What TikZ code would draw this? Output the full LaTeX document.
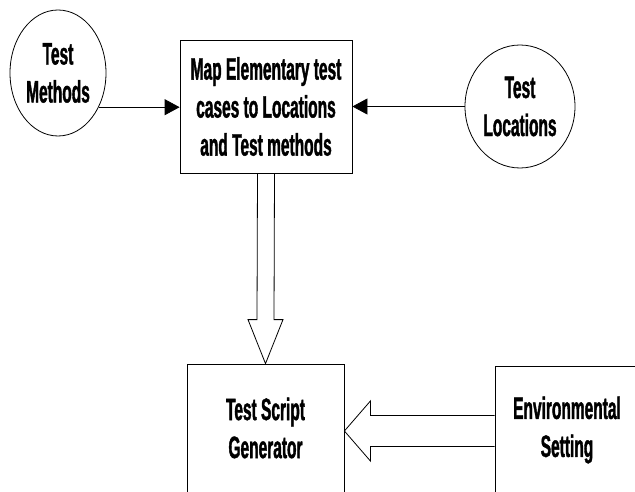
\documentclass[tikz,border=0pt]{standalone}
\usepackage{fontspec}
\newfontfamily\cond[FakeStretch=0.5,FakeBold=1.2]{Liberation Sans}
\usetikzlibrary{arrows.meta,shapes.geometric,calc}
\begin{document}
\begin{tikzpicture}[x=1pt,y=-1pt,
  lbl/.style={font=\cond\bfseries\fontsize{31}{38}\selectfont, align=center, inner sep=0},
  oval/.style={ellipse, draw, line width=0.8pt, inner sep=0},
  box/.style={rectangle, draw, line width=0.8pt, inner sep=0},
  conn/.style={line width=0.8pt, -{Triangle[length=15pt,width=16pt]}},
  block/.style={draw, line width=0.8pt, line join=miter}]
\path[use as bounding box, clip] (0,0) rectangle (635,492);
\fill[white] (0,0) rectangle (635,492);
% nodes
\node[oval, lbl, minimum width=96pt, minimum height=126pt] (tm) at (58,73) {Test\\Methods};
\node[box, lbl, minimum width=172pt, minimum height=133pt] (map) at (266,106.5) {Map Elementary test\\cases to Locations\\and Test methods};
\node[oval, lbl, minimum width=110pt, minimum height=123pt] (tl) at (520,106.5) {Test\\Locations};
\node[box, minimum width=157pt, minimum height=140pt] (tsg) at (265.5,434) {};
\node[lbl] (tsgtext) at (265.5,428) {Test Script\\Generator};
\node[box, minimum width=150pt, minimum height=139pt] (env) at (570,435.5) {};
\node[lbl] (envtext) at (567,430) {Environmental\\Setting};
% connectors
\draw[conn] (tm.-40) -- (tm.-40 -| map.west);
\draw[conn] (tl.west) -- (map.east);
% block arrow down
\draw[block] ($(map.south)+(-8.5,0)$) -- ($(tsg.north)+(-8.5,-44)$) -- ($(tsg.north)+(-17.5,-44)$) -- (tsg.north) -- ($(tsg.north)+(17.5,-44)$) -- ($(tsg.north)+(8.5,-44)$) -- ($(map.south)+(8.5,0)$);
% block arrow left
\coordinate (tip) at ($(tsg.east)+(0,-3)$);
\draw[block] ($(env.west |- tip)+(0,-15.5)$) -- ($(tip)+(26,-15.5)$) -- ($(tip)+(26,-30)$) -- (tip) -- ($(tip)+(26,30)$) -- ($(tip)+(26,15.5)$) -- ($(env.west |- tip)+(0,15.5)$);
\end{tikzpicture}
\end{document}
